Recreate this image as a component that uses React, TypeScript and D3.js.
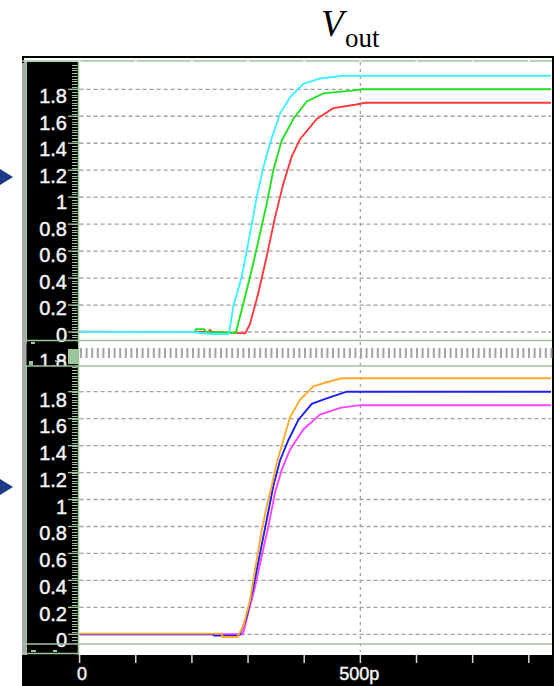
import React from "react";
import * as d3 from "d3";

// ---- data (time in ps, value in V) ----
const cyanData: [number, number][] = [
  [0, 0.0], [200, 0.0], [235, -0.015], [265, -0.015], [266.6, 0.0], [273.7, 0.19],
  [288.7, 0.41], [303.5, 0.73], [315.4, 1.0], [327.2, 1.22], [339.1, 1.4],
  [356.9, 1.62], [374.7, 1.74], [398.4, 1.84], [428.1, 1.88], [469.6, 1.9], [845, 1.9],
];
const greenData: [number, number][] = [
  [0, 0.0], [205, 0.0], [207, 0.02], [222, 0.02], [225, 0.0], [278.2, -0.005],
  [291.5, 0.21], [306.5, 0.46], [321.3, 0.73], [333.2, 0.95], [345.0, 1.2],
  [359.9, 1.42], [380.6, 1.58], [404.5, 1.71], [434.0, 1.77], [484.6, 1.79],
  [503, 1.8], [845, 1.8],
];
const redData: [number, number][] = [
  [0, 0.003], [230, 0.0], [232, 0.015], [236, 0.0], [295, -0.01], [303.5, 0.06],
  [318.3, 0.29], [333.2, 0.56], [348.0, 0.85], [362.8, 1.1], [377.7, 1.3],
  [392.5, 1.43], [422.3, 1.58], [451.8, 1.66], [490.5, 1.685], [508.3, 1.7], [845, 1.7],
];
const orangeData: [number, number][] = [
  [0, 0.005], [253.1, 0.005], [255, -0.02], [280.9, -0.02], [291.5, 0.06],
  [303.5, 0.25], [312.4, 0.48], [324.3, 0.77], [333.2, 0.95], [342.1, 1.1],
  [351.0, 1.27], [362.8, 1.44], [374.7, 1.61], [392.5, 1.74], [416.2, 1.84],
  [440.1, 1.87], [466.8, 1.9], [845, 1.9],
];
const blueData: [number, number][] = [
  [0, 0.0], [236, 0.0], [240, -0.01], [282, -0.01], [285.7, 0.0], [297.6, 0.13],
  [309.4, 0.35], [321.3, 0.6], [333.2, 0.85], [345.0, 1.1], [356.9, 1.29],
  [371.7, 1.44], [389.5, 1.59], [413.4, 1.71], [440.1, 1.75], [475.7, 1.8], [845, 1.8],
];
const magentaData: [number, number][] = [
  [0, 0.0], [282, 0.0], [291, 0.0], [300.4, 0.16], [312.4, 0.35], [324.3, 0.58],
  [336.1, 0.8], [348.0, 1.05], [359.9, 1.22], [374.7, 1.37], [398.4, 1.52],
  [428.1, 1.63], [463.8, 1.68], [499.4, 1.7], [845, 1.7],
];

const yTickValues = [0, 0.2, 0.4, 0.6, 0.8, 1, 1.2, 1.4, 1.6, 1.8];
const yTickLabels = ["0", "0.2", "0.4", "0.6", "0.8", "1", "1.2", "1.4", "1.6", "1.8"];
const xTickValues = [0, 100, 200, 300, 400, 500, 600, 700, 800];
const xTickLabels: Record<number, string> = { 0: "0", 500: "500p" };

const topSeries = [
  { data: redData, color: "#ff3a3a" },
  { data: greenData, color: "#22e022" },
  { data: cyanData, color: "#3ef2ff" },
];
const bottomSeries = [
  { data: magentaData, color: "#ff44ff" },
  { data: blueData, color: "#2020ee" },
  { data: orangeData, color: "#ffaa2a" },
];

const W = 555;
const H = 686;
const PL = 79.6;
const PR = 551;
const GREEN = "#9cc59c";
const GRID = "#a0a0a0";
const LABEL = "#f4f4f4";
const FONT = "'Liberation Sans', Arial, sans-serif";

const x = d3.scaleLinear().domain([0, 842]).range([PL, 552.4]);
const yTop = d3.scaleLinear().domain([0, 1.8]).range([332, 89.3]);
const yBot = d3.scaleLinear().domain([0, 1.8]).range([634.3, 391.7]);

function Panel({ y, series, top, bottom, clipId, lblOff, lblSlope }: any) {
  const line = d3
    .line<[number, number]>()
    .x((d) => x(d[0]))
    .y((d) => y(d[1]));
  const minor = d3.range(-0.04, 2.0, 0.02);
  return (
    <g>
      <defs>
        <clipPath id={clipId}>
          <rect x={PL} y={top} width={PR - PL} height={bottom - top} />
        </clipPath>
      </defs>
      {yTickValues.map((v) => (
        <line key={"g" + v} x1={PL} x2={PR} y1={y(v)} y2={y(v)} stroke={GRID}
          strokeWidth={1.3} strokeDasharray="4,3" />
      ))}
      {minor.map((v, i) => (
        <line key={"m" + i} x1={72} x2={77.5} y1={Math.round(y(v)) + 0.5} y2={Math.round(y(v)) + 0.5}
          stroke={GREEN} strokeWidth={1} />
      ))}
      {yTickValues.map((v) => (
        <line key={"M" + v} x1={68} x2={82} y1={y(v)} y2={y(v)} stroke={GREEN} strokeWidth={1.3} />
      ))}
      {yTickValues.map((v, i) => (
        <text key={"t" + v} x={67} y={y(v) + lblOff + lblSlope * v} textAnchor="end" fill={LABEL}
          stroke={LABEL} strokeWidth={0.45} fontFamily={FONT} fontSize={20}>
          {yTickLabels[i]}
        </text>
      ))}
      <g clipPath={`url(#${clipId})`}>
        {series.map((s: any, i: number) => (
          <path key={i} d={line(s.data) || ""} fill="none" stroke={s.color} strokeWidth={1.9} />
        ))}
      </g>
    </g>
  );
}

export default function App() {
  const stripes = d3.range(80, 551, 5.6);
  return (
    <div style={{ position: "absolute", left: 0, top: 0 }}>
      <svg width={W} height={H} style={{ display: "block", background: "#fff" }}>
        {/* title */}
        <text x={321} y={36} fontFamily="'Liberation Serif', 'Times New Roman', serif"
          fontStyle="italic" fontSize={37} fill="#000">V</text>
        <text x={345} y={47} fontFamily="'Liberation Serif', 'Times New Roman', serif"
          fontSize={27} fill="#000">out</text>

        {/* arrows */}
        <path d="M0,169 L13,177 L0,185 Z" fill="#1d3a86" />
        <path d="M0,479 L13,487 L0,495 Z" fill="#1d3a86" />

        {/* left axis panel */}
        <rect x={22} y={62} width={4} height={593} fill="#a8a8a8" />
        <rect x={26} y={62} width={53} height={593} fill="#000" />
        <line x1={26.5} x2={26.5} y1={62} y2={655} stroke={GREEN} strokeWidth={1} />
        <line x1={78.5} x2={78.5} y1={62} y2={655} stroke={GREEN} strokeWidth={1.5} />

        {/* frame */}
        <line x1={22} x2={553} y1={57} y2={57} stroke="#000" strokeWidth={2} />
        <line x1={23} x2={23} y1={56} y2={63} stroke="#000" strokeWidth={2} />
        <line x1={553} x2={553} y1={56} y2={686} stroke="#000" strokeWidth={2} />

        {/* vertical dashed grid at 500p */}
        <line x1={x(500)} x2={x(500)} y1={62} y2={652} stroke={GRID} strokeWidth={1.3}
          strokeDasharray="3,4" />

        <Panel y={yTop} series={topSeries} top={61} bottom={340} clipId="cTop" lblOff={10} lblSlope={2.2} />
        <Panel y={yBot} series={bottomSeries} top={366} bottom={644} clipId="cBot" lblOff={13} lblSlope={1.1} />

        {/* separator band */}
        <rect x={26.5} y={343} width={51.5} height={22} fill="#000" />
        <defs>
          <clipPath id="bandClip">
            <rect x={26} y={353} width={52} height={13} />
          </clipPath>
        </defs>
        <g clipPath="url(#bandClip)">
          <text x={67} y={368} textAnchor="end" fill={LABEL} stroke={LABEL} strokeWidth={0.45}
            fontFamily={FONT} fontSize={20}>1.8</text>
        </g>
        <line x1={55} x2={66} y1={361} y2={361} stroke={LABEL} strokeWidth={1.2} />
        <rect x={29} y={361} width={4} height={4} fill={GREEN} />
        <rect x={31} y={342} width={4} height={2} fill={GREEN} />
        <rect x={68} y={349} width={10} height={15} fill={GREEN} />
        {stripes.map((sx, i) => (
          <rect key={i} x={sx} y={348} width={2} height={10} fill="#a4a4a4" />
        ))}
        <line x1={22} x2={552} y1={61} y2={61} stroke={GREEN} strokeWidth={1.5} />
        {xTickValues.map((t) => (
          <line key={"b" + t} x1={x(t) - 1} x2={x(t) + 1} y1={61} y2={61} stroke="#fff" strokeWidth={1.6} />
        ))}
        <line x1={22} x2={552} y1={340.5} y2={340.5} stroke={GREEN} strokeWidth={1.5} />
        <line x1={22} x2={552} y1={366} y2={366} stroke={GREEN} strokeWidth={1.5} />
        <line x1={22} x2={552} y1={644} y2={644} stroke={GREEN} strokeWidth={1.5} />
        <line x1={22} x2={79} y1={653.5} y2={653.5} stroke={GREEN} strokeWidth={1.5} />
        <rect x={31} y={650} width={5} height={2} fill={GREEN} />
        <rect x={53} y={650} width={4} height={2} fill={GREEN} />

        {/* x axis bar */}
        <rect x={22} y={655} width={531} height={31} fill="#000" />
        {xTickValues.map((t) => (
          <line key={"x" + t} x1={x(t)} x2={x(t)} y1={655} y2={663} stroke="#d8d8d8" strokeWidth={1.5} />
        ))}
        {xTickValues.filter((t) => xTickLabels[t]).map((t) => (
          <text key={"xl" + t} x={x(t) + (t === 0 ? 2.5 : -1)} y={680} textAnchor="middle" fill={LABEL}
            stroke={LABEL} strokeWidth={0.45} fontFamily={FONT} fontSize={18}>
            {xTickLabels[t]}
          </text>
        ))}
      </svg>
    </div>
  );
}
